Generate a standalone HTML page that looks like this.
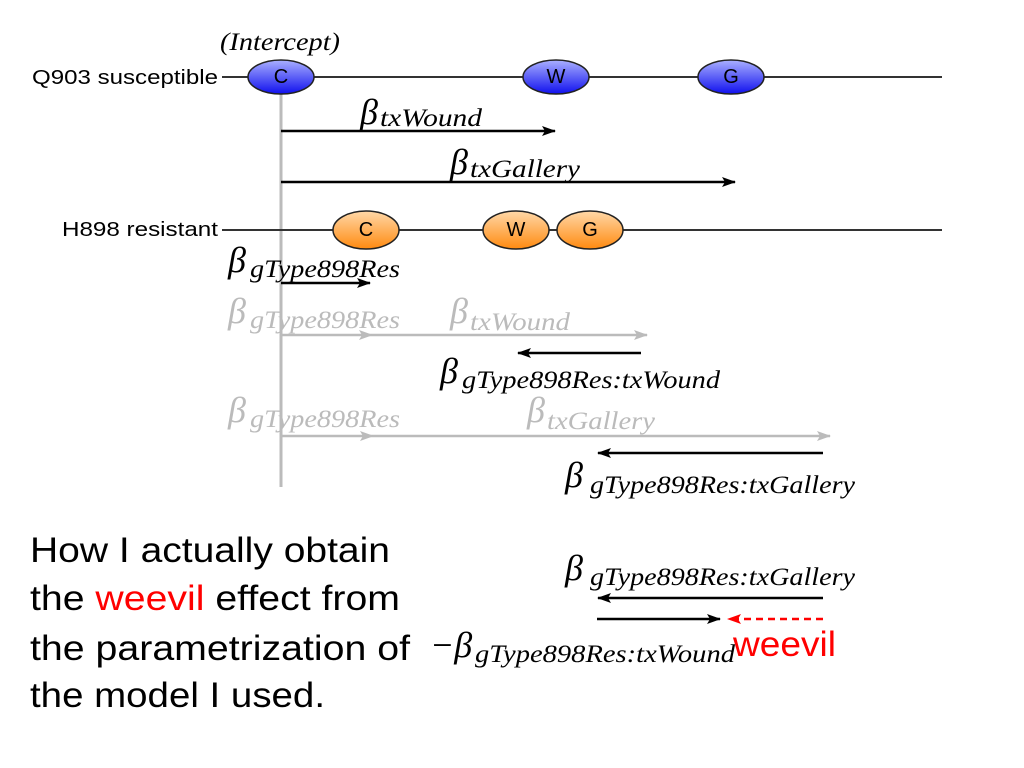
<!DOCTYPE html>
<html><head><meta charset="utf-8"><style>
html,body{margin:0;padding:0;background:#fff}
svg{display:block}
.s{font-family:"Liberation Serif",serif;font-style:italic}
.b{font-size:36px}
.sub{font-size:25px}
.lab{font-family:"Liberation Sans",sans-serif;font-size:20px}
.big{font-family:"Liberation Sans",sans-serif;font-size:35px}
</style></head><body>
<svg width="1024" height="768" viewBox="0 0 1024 768">
<defs>
<linearGradient id="gb" x1="0" y1="0" x2="0" y2="1"><stop offset="0" stop-color="#aab0ff"/><stop offset="1" stop-color="#1010ee"/></linearGradient>
<linearGradient id="go" x1="0" y1="0" x2="0" y2="1"><stop offset="0" stop-color="#ffd8a8"/><stop offset="1" stop-color="#ff8a10"/></linearGradient>
<marker id="ak" markerWidth="14" markerHeight="10" refX="13" refY="5" orient="auto" markerUnits="userSpaceOnUse"><path d="M0,0 L14,5 L0,10 L3,5 Z" fill="#000"/></marker>
<marker id="ag" markerWidth="14" markerHeight="10" refX="13" refY="5" orient="auto" markerUnits="userSpaceOnUse"><path d="M0,0 L14,5 L0,10 L3,5 Z" fill="#bbb"/></marker>
<marker id="ar" markerWidth="14" markerHeight="10" refX="13" refY="5" orient="auto" markerUnits="userSpaceOnUse"><path d="M0,0 L14,5 L0,10 L3,5 Z" fill="#f00"/></marker>
</defs>

<line x1="281" y1="92" x2="281" y2="487" stroke="#bbb" stroke-width="3"/>

<g>
<text x="32" y="84" class="lab" textLength="186" lengthAdjust="spacingAndGlyphs">Q903 susceptible</text>
<line x1="222" y1="77" x2="942" y2="77" stroke="#333" stroke-width="2"/>
<text x="220" y="50" class="s" font-size="25" textLength="120" lengthAdjust="spacingAndGlyphs">(Intercept)</text>
<ellipse cx="281" cy="77" rx="33" ry="17" fill="url(#gb)" stroke="#222" stroke-width="1.5"/>
<text x="281" y="83" text-anchor="middle" class="lab" font-size="15">C</text>
<ellipse cx="556" cy="77" rx="33" ry="17" fill="url(#gb)" stroke="#222" stroke-width="1.5"/>
<text x="556" y="83" text-anchor="middle" class="lab" font-size="15">W</text>
<ellipse cx="731" cy="77" rx="33" ry="17" fill="url(#gb)" stroke="#222" stroke-width="1.5"/>
<text x="731" y="83" text-anchor="middle" class="lab" font-size="15">G</text>
</g>

<line x1="281" y1="131" x2="555" y2="131" stroke="#000" stroke-width="2.5" marker-end="url(#ak)"/>
<text x="360" y="124" class="s b">β</text><text x="380" y="126" class="s sub" textLength="102" lengthAdjust="spacingAndGlyphs">txWound</text>
<line x1="281" y1="182" x2="735" y2="182" stroke="#000" stroke-width="2.5" marker-end="url(#ak)"/>
<text x="450" y="174" class="s b">β</text><text x="470" y="177" class="s sub" textLength="110" lengthAdjust="spacingAndGlyphs">txGallery</text>

<g>
<text x="62" y="236" class="lab" textLength="156" lengthAdjust="spacingAndGlyphs">H898 resistant</text>
<line x1="222" y1="230" x2="942" y2="230" stroke="#333" stroke-width="2"/>
<ellipse cx="366" cy="230" rx="33" ry="19" fill="url(#go)" stroke="#222" stroke-width="1.5"/>
<text x="366" y="236" text-anchor="middle" class="lab" font-size="15">C</text>
<ellipse cx="516" cy="230" rx="33" ry="19" fill="url(#go)" stroke="#222" stroke-width="1.5"/>
<text x="516" y="236" text-anchor="middle" class="lab" font-size="15">W</text>
<ellipse cx="590" cy="230" rx="33" ry="19" fill="url(#go)" stroke="#222" stroke-width="1.5"/>
<text x="590" y="236" text-anchor="middle" class="lab" font-size="15">G</text>
</g>

<text x="228" y="272" class="s b">β</text><text x="250" y="277" class="s sub" textLength="150" lengthAdjust="spacingAndGlyphs">gType898Res</text>
<line x1="281" y1="283" x2="370" y2="283" stroke="#000" stroke-width="2.5" marker-end="url(#ak)"/>

<text x="228" y="323" class="s b" fill="#bbb">β</text><text x="250" y="328" class="s sub" fill="#bbb" textLength="150" lengthAdjust="spacingAndGlyphs">gType898Res</text>
<text x="450" y="323" class="s b" fill="#bbb">β</text><text x="470" y="330" class="s sub" fill="#bbb" textLength="100" lengthAdjust="spacingAndGlyphs">txWound</text>
<text x="228" y="422" class="s b" fill="#bbb">β</text><text x="250" y="427" class="s sub" fill="#bbb" textLength="150" lengthAdjust="spacingAndGlyphs">gType898Res</text>
<text x="527" y="422" class="s b" fill="#bbb">β</text><text x="547" y="429" class="s sub" fill="#bbb" textLength="108" lengthAdjust="spacingAndGlyphs">txGallery</text>

<line x1="281" y1="335" x2="372" y2="335" stroke="#bbb" stroke-width="2.5" marker-end="url(#ag)"/>
<line x1="372" y1="335" x2="647" y2="335" stroke="#bbb" stroke-width="2.5" marker-end="url(#ag)"/>
<line x1="641" y1="353" x2="518" y2="353" stroke="#000" stroke-width="2.5" marker-end="url(#ak)"/>
<text x="440" y="383" class="s b">β</text><text x="462" y="388" class="s sub" textLength="258" lengthAdjust="spacingAndGlyphs">gType898Res:txWound</text>

<line x1="281" y1="436" x2="373" y2="436" stroke="#bbb" stroke-width="2.5" marker-end="url(#ag)"/>
<line x1="373" y1="436" x2="830" y2="436" stroke="#bbb" stroke-width="2.5" marker-end="url(#ag)"/>
<line x1="823" y1="453" x2="598" y2="453" stroke="#000" stroke-width="2.5" marker-end="url(#ak)"/>
<text x="565" y="487" class="s b">β</text><text x="590" y="493" class="s sub" textLength="265" lengthAdjust="spacingAndGlyphs">gType898Res:txGallery</text>

<g>
<text x="30" y="562" class="big" textLength="360" lengthAdjust="spacingAndGlyphs">How I actually obtain</text>
<text x="30" y="610" class="big" textLength="370" lengthAdjust="spacingAndGlyphs">the <tspan fill="#f00">weevil</tspan> effect from</text>
<text x="30" y="660" class="big" textLength="380" lengthAdjust="spacingAndGlyphs">the parametrization of</text>
<text x="30" y="707" class="big" textLength="295" lengthAdjust="spacingAndGlyphs">the model I used.</text>
</g>

<text x="565" y="580" class="s b">β</text><text x="590" y="585" class="s sub" textLength="265" lengthAdjust="spacingAndGlyphs">gType898Res:txGallery</text>
<line x1="823" y1="598" x2="598" y2="598" stroke="#000" stroke-width="2.5" marker-end="url(#ak)"/>
<line x1="597" y1="619" x2="720" y2="619" stroke="#000" stroke-width="2.5" marker-end="url(#ak)"/>
<line x1="823" y1="619" x2="728" y2="619" stroke="#f00" stroke-width="2.5" stroke-dasharray="7,5" marker-end="url(#ar)"/>
<text x="430" y="657" class="s b">−β</text><text x="475" y="662" class="s sub" textLength="260" lengthAdjust="spacingAndGlyphs">gType898Res:txWound</text>
<text x="733" y="656" class="big" fill="#f00" textLength="103" lengthAdjust="spacingAndGlyphs">weevil</text>
</svg>
</body></html>
